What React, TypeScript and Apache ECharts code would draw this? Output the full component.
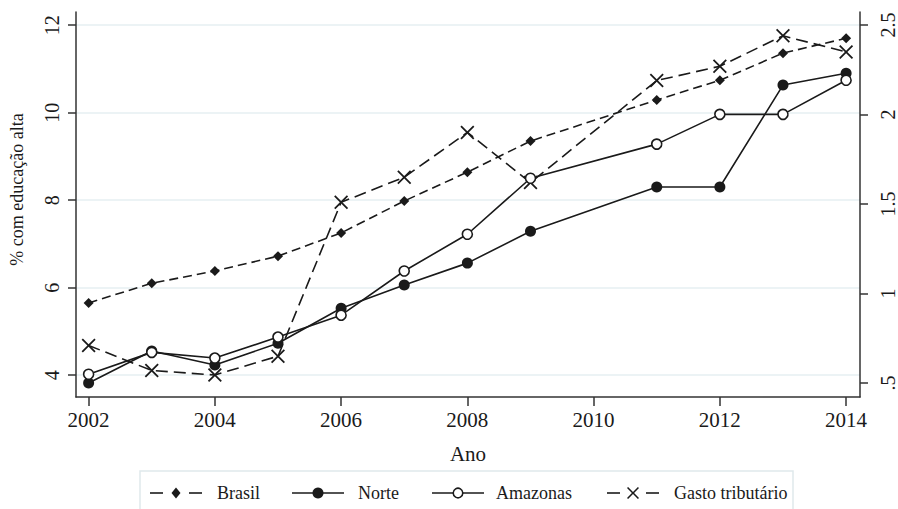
import React, { useEffect, useRef } from "react";
import * as echarts from "echarts";

const years = [2002, 2003, 2004, 2005, 2006, 2007, 2008, 2009, 2011, 2012, 2013, 2014];
const brasil = [5.65, 6.1, 6.38, 6.72, 7.25, 7.98, 8.64, 9.35, 10.29, 10.74, 11.36, 11.7];
const norte = [3.82, 4.55, 4.23, 4.73, 5.53, 6.06, 6.56, 7.29, 8.3, 8.3, 10.63, 10.9];
const amazonas = [4.02, 4.52, 4.39, 4.87, 5.37, 6.38, 7.22, 8.5, 9.28, 9.96, 9.96, 10.74];
const gasto = [0.71, 0.57, 0.545, 0.65, 1.51, 1.65, 1.9, 1.62, 2.19, 2.27, 2.44, 2.35];

const xTicks = [2002, 2004, 2006, 2008, 2010, 2012, 2014];
const leftTicks = [4, 6, 8, 10, 12];
const rightTicks = [0.5, 1, 1.5, 2, 2.5];
const legendNames = ["Brasil", "Norte", "Amazonas", "Gasto tributário"];

const FONT = "Liberation Serif";
const INK = "#1a1a1a";
const AXIS = "#333";

const X_SYMBOL =
  "path://M0,9L9,0L50,41L91,0L100,9L59,50L100,91L91,100L50,59L9,100L0,91L41,50Z";

function pairs(vals: number[]) {
  return years.map((y, i) => [y, vals[i]]);
}

function xPoly(cx: number, cy: number, s: number) {
  const raw = [
    [0, 9], [9, 0], [50, 41], [91, 0], [100, 9], [59, 50],
    [100, 91], [91, 100], [50, 59], [9, 100], [0, 91], [41, 50],
  ];
  return raw.map(([a, b]) => [cx + ((a - 50) / 100) * s, cy + ((b - 50) / 100) * s]);
}

function buildLegend() {
  const cy = 493;
  const items = [
    { x0: 150, kind: "dash", mark: "diamond", tx: 217 },
    { x0: 292, kind: "solid", mark: "dot", tx: 358 },
    { x0: 432, kind: "solid", mark: "ring", tx: 496 },
    { x0: 607, kind: "dash", mark: "x", tx: 674 },
  ];
  const els: any[] = [
    {
      type: "rect",
      shape: { x: 140, y: 471, width: 653, height: 60 },
      style: { fill: "none", stroke: "#dfe9ec", lineWidth: 1.5 },
      silent: true,
    },
  ];
  items.forEach((it, i) => {
    const w = 52;
    const cx = it.x0 + w / 2;
    const ls = { stroke: INK, lineWidth: 1.6 };
    if (it.kind === "dash") {
      els.push({ type: "line", shape: { x1: it.x0, y1: cy, x2: it.x0 + 13, y2: cy }, style: ls });
      els.push({ type: "line", shape: { x1: it.x0 + w - 13, y1: cy, x2: it.x0 + w, y2: cy }, style: ls });
    } else {
      els.push({ type: "line", shape: { x1: it.x0, y1: cy, x2: it.x0 + w, y2: cy }, style: ls });
    }
    if (it.mark === "diamond") {
      els.push({
        type: "polygon",
        shape: { points: [[cx, cy - 5.5], [cx + 4.5, cy], [cx, cy + 5.5], [cx - 4.5, cy]] },
        style: { fill: INK },
      });
    } else if (it.mark === "dot") {
      els.push({ type: "circle", shape: { cx, cy, r: 5.5 }, style: { fill: INK } });
    } else if (it.mark === "ring") {
      els.push({ type: "circle", shape: { cx, cy, r: 4.8 }, style: { fill: "#fff", stroke: INK, lineWidth: 1.6 } });
    } else {
      els.push({ type: "polygon", shape: { points: xPoly(cx, cy, 12) }, style: { fill: INK } });
    }
    els.push({
      type: "text",
      x: it.tx,
      y: cy,
      style: {
        text: legendNames[i],
        fontFamily: FONT,
        fontSize: 18,
        fill: INK,
        textVerticalAlign: "middle",
        verticalAlign: "middle",
      },
    });
  });
  return els;
}

export default function App() {
  const ref = useRef<HTMLDivElement>(null);
  useEffect(() => {
    if (!ref.current) return;
    const chart = echarts.init(ref.current, null, { renderer: "svg" });
    chart.setOption({
      animation: false,
      backgroundColor: "#ffffff",
      textStyle: { fontFamily: FONT, color: INK },
      grid: { left: 73, right: 38, top: 12, bottom: 112, containLabel: false },
      graphic: buildLegend(),
      xAxis: {
        type: "value",
        min: 2001.8,
        max: 2014.22,
        name: "Ano",
        nameLocation: "middle",
        nameGap: 46,
        nameTextStyle: { fontFamily: FONT, fontSize: 21, color: INK },
        axisLine: { show: true, lineStyle: { color: AXIS, width: 1.5 } },
        axisTick: { show: true, length: 9, customValues: xTicks, lineStyle: { color: AXIS, width: 1.5 } },
        axisLabel: {
          customValues: xTicks,
          fontFamily: FONT,
          fontSize: 21,
          color: INK,
          margin: 12,
          formatter: (v: number) => String(v),
        },
        splitLine: { show: false },
      },
      yAxis: [
        {
          type: "value",
          position: "left",
          min: 3.5,
          max: 12.3,
          name: "% com educação alta",
          nameLocation: "middle",
          nameGap: 50,
          nameRotate: 90,
          nameTextStyle: { fontFamily: FONT, fontSize: 18, color: INK, padding: [0, 0, 0, 30] },
          axisLine: { show: true, lineStyle: { color: AXIS, width: 1.5 } },
          axisTick: { show: true, length: 8, customValues: leftTicks, lineStyle: { color: AXIS, width: 1.5 } },
          axisLabel: {
            customValues: leftTicks,
            rotate: 90,
            fontFamily: FONT,
            fontSize: 20,
            color: INK,
            margin: 14,
            formatter: (v: number) => String(v),
          },
          splitLine: { show: true, lineStyle: { color: "#e6eff2", width: 1.5 } },
        },
        {
          type: "value",
          position: "right",
          min: 0.422,
          max: 2.573,
          axisLine: { show: true, lineStyle: { color: AXIS, width: 1.5 } },
          axisTick: { show: true, length: 8, customValues: rightTicks, lineStyle: { color: AXIS, width: 1.5 } },
          axisLabel: {
            customValues: rightTicks,
            rotate: 90,
            fontFamily: FONT,
            fontSize: 20,
            color: INK,
            margin: 18,
            formatter: (v: number) => (v === 0.5 ? ".5" : String(v)),
          },
          splitLine: { show: false },
        },
      ],
      series: [
        {
          name: "Brasil",
          type: "line",
          yAxisIndex: 0,
          data: pairs(brasil),
          symbol: "diamond",
          symbolSize: 10,
          lineStyle: { color: INK, width: 1.6, type: [9, 5] },
          itemStyle: { color: INK },
          z: 3,
        },
        {
          name: "Norte",
          type: "line",
          yAxisIndex: 0,
          data: pairs(norte),
          symbol: "circle",
          symbolSize: 11,
          lineStyle: { color: INK, width: 1.6, type: "solid" },
          itemStyle: { color: INK },
          z: 3,
        },
        {
          name: "Amazonas",
          type: "line",
          yAxisIndex: 0,
          data: pairs(amazonas),
          symbol: "circle",
          symbolSize: 10,
          showAllSymbol: true,
          lineStyle: { color: INK, width: 1.6, type: "solid" },
          itemStyle: { color: "#ffffff", borderColor: INK, borderWidth: 1.6 },
          z: 4,
        },
        {
          name: "Gasto tributário",
          type: "line",
          yAxisIndex: 1,
          data: pairs(gasto),
          symbol: X_SYMBOL,
          symbolSize: 14,
          lineStyle: { color: INK, width: 1.6, type: [12, 6] },
          itemStyle: { color: INK },
          z: 3,
        },
      ],
    });
    return () => chart.dispose();
  }, []);
  return (
    <div
      ref={ref}
      style={{ position: "fixed", left: 0, top: 0, width: 898, height: 509, background: "#fff" }}
    />
  );
}
